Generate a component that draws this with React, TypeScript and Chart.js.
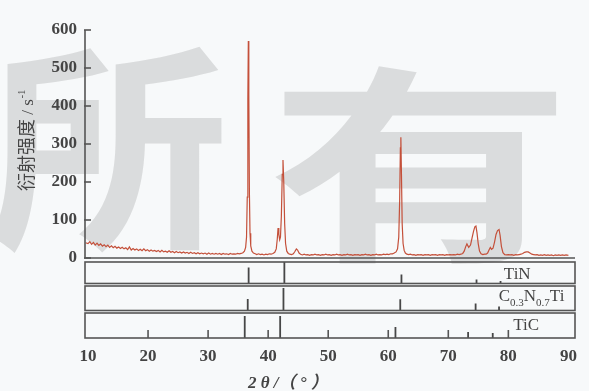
import React, { useEffect, useRef } from 'react';
import { Chart, registerables } from 'chart.js';

Chart.register(...registerables);

// ---- XRD pattern (2θ in degrees, intensity in s^-1) ----
const twoTheta = [
  9.6, 10.0, 10.3, 10.6, 10.9, 11.2, 11.5, 11.8, 12.1, 12.4, 12.7,
  13.0, 13.3, 13.6, 13.9, 14.2, 14.5, 14.8, 15.1, 15.4, 15.7,
  16.0, 16.3, 16.6, 16.9, 17.2, 17.5, 17.8, 18.1, 18.4, 18.7,
  19.0, 19.3, 19.6, 19.9, 20.2, 20.5, 20.8, 21.1, 21.4, 21.7,
  22.0, 22.3, 22.6, 22.9, 23.2, 23.5, 23.8, 24.1, 24.4, 24.7,
  25.0, 25.3, 25.6, 25.9, 26.2, 26.5, 26.8, 27.1, 27.4, 27.7,
  28.0, 28.3, 28.6, 28.9, 29.2, 29.5, 29.8, 30.1, 30.4, 30.7,
  31.0, 31.3, 31.6, 31.9, 32.2, 32.5, 32.8, 33.1, 33.4, 33.7,
  34.0, 34.3, 34.6, 34.9, 35.2, 35.5, 35.8, 36.05, 36.25, 36.4,
  36.52, 36.62, 36.7, 36.78, 36.88, 36.98, 37.1, 37.3, 37.55, 37.85,
  38.1, 38.4, 38.7, 39.0, 39.3, 39.6, 39.9, 40.2, 40.5, 40.8,
  41.1, 41.35, 41.52, 41.65, 41.78, 41.92, 42.05, 42.2, 42.35, 42.47,
  42.6, 42.75, 42.9, 43.1, 43.35, 43.6, 43.9, 44.2, 44.45, 44.7,
  44.9, 45.15, 45.4, 45.7, 46.0, 46.3, 46.6, 46.9, 47.2, 47.5,
  47.8, 48.1, 48.4, 48.7, 49.0, 49.3, 49.6, 49.9, 50.2, 50.5,
  50.8, 51.1, 51.4, 51.7, 52.0, 52.3, 52.6, 52.9, 53.2, 53.5,
  53.8, 54.1, 54.4, 54.7, 55.0, 55.3, 55.6, 55.9, 56.2, 56.5,
  56.8, 57.1, 57.4, 57.7, 58.0, 58.3, 58.6, 58.9, 59.2, 59.5,
  59.8, 60.1, 60.4, 60.7, 61.0, 61.3, 61.55, 61.75, 61.9, 62.02,
  62.1, 62.2, 62.32, 62.47, 62.65, 62.85, 63.1, 63.4, 63.7, 64.0,
  64.3, 64.6, 64.9, 65.2, 65.5, 65.8, 66.1, 66.4, 66.7, 67.0,
  67.3, 67.6, 67.9, 68.2, 68.5, 68.8, 69.1, 69.4, 69.7, 70.0,
  70.3, 70.6, 70.9, 71.2, 71.5, 71.8, 72.1, 72.4, 72.65, 72.9,
  73.1, 73.4, 73.7, 73.95, 74.2, 74.42, 74.6, 74.78, 74.98, 75.2,
  75.45, 75.75, 76.05, 76.3, 76.55, 76.8, 77.0, 77.2, 77.45, 77.7,
  77.95, 78.2, 78.45, 78.62, 78.85, 79.1, 79.4, 79.7, 80.0, 80.3,
  80.6, 80.9, 81.2, 81.5, 81.8, 82.1, 82.4, 82.7, 83.0, 83.3,
  83.6, 83.9, 84.2, 84.5, 84.8, 85.1, 85.4, 85.7, 86.0, 86.3,
  86.6, 86.9, 87.2, 87.5, 87.8, 88.1, 88.4, 88.7, 89.0, 89.3,
  89.6, 90.0,
];
const intensity = [
  40, 38, 43, 36, 41, 34, 39, 33, 37, 31, 35,
  30, 34, 28, 32, 27, 31, 26, 29, 25, 28,
  24, 27, 22, 29, 21, 25, 21, 24, 20, 23,
  19, 24, 19, 22, 18, 21, 18, 20, 17, 20,
  16, 20, 16, 18, 15, 19, 15, 17, 14, 17,
  14, 16, 13, 16, 13, 15, 12, 15, 12, 14,
  11, 14, 11, 13, 11, 13, 10, 13, 10, 12,
  10, 12, 10, 12, 9, 12, 10, 11, 9, 12,
  10, 11, 10, 12, 11, 12, 14, 18, 28, 55,
  160, 420, 571, 430, 170, 65, 32, 18, 13, 11,
  9, 11, 9, 10, 8, 10, 9, 11, 10, 12,
  15, 24, 50, 79, 62, 48, 55, 110, 220, 258,
  200, 90, 38, 18, 12, 10, 9, 11, 17, 24,
  21, 13, 10, 8, 10, 8, 9, 7, 9, 8,
  10, 8, 9, 7, 9, 8, 10, 8, 9, 7,
  9, 8, 10, 8, 9, 7, 9, 8, 10, 8,
  9, 7, 9, 8, 9, 7, 9, 8, 10, 8,
  9, 7, 9, 8, 10, 8, 9, 8, 10, 9,
  10, 9, 11, 11, 13, 16, 24, 55, 150, 290,
  318, 220, 90, 38, 20, 13, 10, 9, 10, 8,
  9, 7, 9, 8, 9, 7, 9, 8, 9, 7,
  9, 8, 9, 7, 9, 8, 9, 7, 9, 8,
  9, 8, 9, 8, 10, 9, 10, 12, 18, 30,
  37, 28, 34, 52, 70, 82, 84, 66, 38, 18,
  11, 9, 10, 10, 13, 22, 28, 23, 26, 42,
  62, 72, 75, 60, 30, 14, 9, 8, 9, 8,
  9, 7, 9, 8, 9, 10, 12, 15, 16, 16,
  13, 10, 9, 8, 9, 7, 8, 7, 9, 7,
  8, 7, 8, 6, 8, 7, 8, 7, 8, 7,
  8, 7,
];

// ---- Reference patterns (position in 2θ, relative intensity) ----
const tinPositions = [36.75, 42.7, 62.2, 74.7, 78.7];
const tinHeights = [0.74, 1.0, 0.42, 0.19, 0.12];
const cnPositions = [36.6, 42.55, 62.0, 74.55, 78.45];
const cnHeights = [0.47, 0.92, 0.46, 0.29, 0.16];
const ticPositions = [36.1, 42.0, 61.2, 73.3, 77.4];
const ticHeights = [0.88, 0.88, 0.44, 0.24, 0.2];

const xTickValues = [10, 20, 30, 40, 50, 60, 70, 80, 90];
const yTickValues = [0, 100, 200, 300, 400, 500, 600];

const yTitle = '衍射强度 / s';
const yTitleSup = '-1';
const xTitle = '2 θ /（ ° ）';
const panelNames = ['TiN', 'TiC'];

const LINE = '#555555';
const TEXT = '#444444';
const SERIF = '"Liberation Serif", "DejaVu Serif", serif';
const CJK = '"Noto Sans CJK SC", "Noto Sans CJK JP", sans-serif';

function sticks(pos: number[], h: number[]) {
  const out: any[] = [];
  pos.forEach((p, i) => {
    out.push({ x: p, y: 0 });
    out.push({ x: p, y: h[i] });
    out.push({ x: p, y: null });
  });
  return out;
}

const decorPlugin = {
  id: 'decor',
  beforeDraw(chart: any) {
    const ctx = chart.ctx;
    ctx.save();
    ctx.fillStyle = '#f7f9fa';
    ctx.fillRect(0, 0, chart.width, chart.height);
    // watermark
    ctx.fillStyle = 'rgba(120,120,120,0.22)';
    ctx.textAlign = 'center';
    ctx.textBaseline = 'middle';
    ctx.save();
    ctx.translate(108, 148);
    ctx.scale(1.1, 1);
    ctx.font = `bold 220px ${CJK}`;
    ctx.fillText('所', 0, 0);
    ctx.restore();
    ctx.save();
    ctx.translate(420, 165);
    ctx.scale(1.45, 1);
    ctx.font = `bold 210px ${CJK}`;
    ctx.fillText('有', 0, 0);
    ctx.restore();
    ctx.restore();
  },
  afterDraw(chart: any) {
    const ctx = chart.ctx;
    const x = chart.scales.x;
    const y = chart.scales.y;
    const left = x.left;
    const right = x.right;
    ctx.save();
    ctx.strokeStyle = LINE;
    ctx.lineWidth = 1.6;
    // main axes
    ctx.beginPath();
    ctx.moveTo(left, y.getPixelForValue(600));
    ctx.lineTo(left, y.getPixelForValue(0));
    ctx.lineTo(right, y.getPixelForValue(0));
    ctx.stroke();
    // y ticks (inward)
    yTickValues.forEach((v) => {
      const py = y.getPixelForValue(v);
      ctx.beginPath();
      ctx.moveTo(left - 1, py);
      ctx.lineTo(left + 6, py);
      ctx.stroke();
    });
    // panel boxes
    ['yTiN', 'yCN', 'yTiC'].forEach((id) => {
      const s = chart.scales[id];
      const t = s.getPixelForValue(1);
      const b = s.getPixelForValue(0);
      ctx.strokeRect(left, t, right - left, b - t);
    });
    // x ticks (inward) on the bottom panel
    const bottom = chart.scales.yTiC.getPixelForValue(0);
    xTickValues.forEach((v) => {
      if (v === 10 || v === 90) return;
      const px = x.getPixelForValue(v);
      ctx.beginPath();
      ctx.moveTo(px, bottom);
      ctx.lineTo(px, bottom - 8);
      ctx.stroke();
    });
    // panel labels
    ctx.fillStyle = TEXT;
    ctx.textBaseline = 'alphabetic';
    ctx.textAlign = 'left';
    ctx.font = `17px ${SERIF}`;
    const tinB = chart.scales.yTiN.getPixelForValue(0);
    ctx.fillText(panelNames[0], x.getPixelForValue(79.25), tinB - 4);
    const cnB = chart.scales.yCN.getPixelForValue(0);
    let cx = x.getPixelForValue(78.4);
    const parts: [string, boolean][] = [['C', false], ['0.3', true], ['N', false], ['0.7', true], ['Ti', false]];
    parts.forEach(([t, sub]) => {
      ctx.font = sub ? `11px ${SERIF}` : `17px ${SERIF}`;
      ctx.fillText(t, cx, sub ? cnB - 4 : cnB - 9);
      cx += ctx.measureText(t).width;
    });
    ctx.font = `17px ${SERIF}`;
    const ticB = chart.scales.yTiC.getPixelForValue(0);
    ctx.fillText(panelNames[1], x.getPixelForValue(80.8), ticB - 8);

    // x title
    ctx.font = `italic bold 17px ${SERIF}, ${CJK}`;
    ctx.textAlign = 'center';
    ctx.fillText(xTitle, x.getPixelForValue(43.3), 388);

    // y title (rotated)
    ctx.save();
    ctx.translate(33, 191);
    ctx.rotate(-Math.PI / 2);
    ctx.textAlign = 'left';
    ctx.font = `18px ${CJK}`;
    const cjkPart = '衍射强度';
    ctx.fillText(cjkPart, 0, 0);
    let w = ctx.measureText(cjkPart).width;
    ctx.font = `17px ${SERIF}`;
    const rest = yTitle.slice(cjkPart.length);
    ctx.fillText(rest, w, 0);
    w += ctx.measureText(rest).width;
    ctx.font = `10px ${SERIF}`;
    ctx.fillText(yTitleSup, w + 1, -8);
    ctx.restore();
    ctx.restore();
  },
};

export default function App() {
  const ref = useRef<HTMLCanvasElement | null>(null);
  useEffect(() => {
    document.body.style.margin = '0';
    const canvas = ref.current;
    if (!canvas) return;
    const fit = (h: number) => (s: any) => { s.width = h; };
    const tickFont = { family: SERIF, size: 17, weight: 'bold' as const };
    const chart = new Chart(canvas, {
      type: 'line',
      data: {
        datasets: [
          {
            data: twoTheta.map((t, i) => ({ x: t, y: intensity[i] })),
            yAxisID: 'y',
            borderColor: '#c4503a',
            borderWidth: 1.2,
            pointRadius: 0,
            tension: 0,
          },
          {
            data: sticks(tinPositions, tinHeights),
            yAxisID: 'yTiN',
            borderColor: '#474747',
            borderWidth: 1.8,
            pointRadius: 0,
            spanGaps: false,
          },
          {
            data: sticks(cnPositions, cnHeights),
            yAxisID: 'yCN',
            borderColor: '#474747',
            borderWidth: 1.8,
            pointRadius: 0,
            spanGaps: false,
          },
          {
            data: sticks(ticPositions, ticHeights),
            yAxisID: 'yTiC',
            borderColor: '#474747',
            borderWidth: 1.8,
            pointRadius: 0,
            spanGaps: false,
          },
        ],
      },
      options: {
        responsive: false,
        maintainAspectRatio: false,
        animation: false,
        events: [],
        layout: { padding: { top: 30, right: 14, left: 0, bottom: 0 } },
        plugins: { legend: { display: false }, tooltip: { enabled: false } },
        scales: {
          x: {
            type: 'linear',
            position: 'bottom',
            min: 9.5,
            max: 91.1,
            grid: { display: false, drawTicks: false },
            border: { display: false },
            afterBuildTicks: (s: any) => { s.ticks = xTickValues.map((v) => ({ value: v })); },
            afterFit: (s: any) => { s.height = 53; },
            ticks: { padding: 8, color: TEXT, font: tickFont, autoSkip: false, maxRotation: 0 },
          },
          y: {
            type: 'linear',
            position: 'left',
            stack: 'xrd',
            stackWeight: 228,
            weight: 4,
            min: 0,
            max: 600,
            grid: { display: false, drawTicks: false },
            border: { display: false },
            afterBuildTicks: (s: any) => { s.ticks = yTickValues.map((v) => ({ value: v })); },
            afterFit: fit(85),
            ticks: { padding: 8, color: TEXT, font: tickFont, autoSkip: false },
          },
          yTiN: {
            type: 'linear',
            position: 'left',
            stack: 'xrd',
            stackWeight: 26.5,
            weight: 3,
            min: -0.047,
            max: 1.186,
            grid: { display: false, drawTicks: false },
            border: { display: false },
            ticks: { display: false },
            afterFit: fit(85),
          },
          yCN: {
            type: 'linear',
            position: 'left',
            stack: 'xrd',
            stackWeight: 27,
            weight: 2,
            min: -0.041,
            max: 1.061,
            grid: { display: false, drawTicks: false },
            border: { display: false },
            ticks: { display: false },
            afterFit: fit(85),
          },
          yTiC: {
            type: 'linear',
            position: 'left',
            stack: 'xrd',
            stackWeight: 26.5,
            weight: 1,
            min: 0,
            max: 1.06,
            grid: { display: false, drawTicks: false },
            border: { display: false },
            ticks: { display: false },
            afterFit: fit(85),
          },
        },
      } as any,
      plugins: [decorPlugin],
    });
    return () => chart.destroy();
  }, []);
  return (
    <div style={{ width: 589, height: 391 }}>
      <canvas ref={ref} width={589} height={391} style={{ display: 'block' }} />
    </div>
  );
}
